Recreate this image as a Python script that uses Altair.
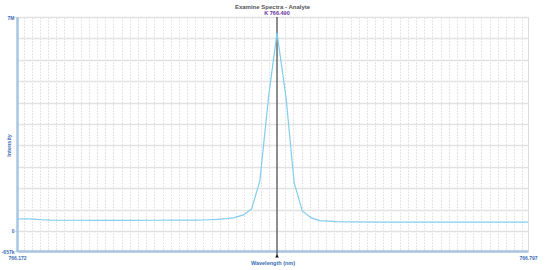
import altair as alt
import pandas as pd
import numpy as np

# ---- data ----
wavelengths = [766.172, 766.182, 766.192, 766.203, 766.213, 766.224, 766.245, 766.276, 766.307, 766.338,
               766.369, 766.390, 766.401, 766.417, 766.428, 766.438, 766.449, 766.459, 766.469, 766.480,
               766.490, 766.501, 766.511, 766.521, 766.532, 766.542, 766.553, 766.563, 766.584, 766.615,
               766.646, 766.677, 766.708, 766.739, 766.770, 766.797]
intensities = [386000, 399000, 386000, 366000, 353000, 350000, 349000, 348000, 348000, 349000,
               351000, 354000, 358000, 375000, 400000, 435000, 523000, 720000, 1640000, 4450000,
               6480000, 4380000, 1570000, 654000, 425000, 337000, 320000, 305000, 295000, 290000,
               288000, 286000, 286000, 287000, 286000, 286000]

peak_wavelength = [766.490]
peak_label = ["K 766.490"]

x_min, x_max = 766.172, 766.797
y_min, y_max = -657000, 7000000
y_ticks = [-657000] + [i * 700000 for i in range(11)]
x_ticks = [x_min] + [float(round(v, 2)) for v in np.arange(766.18, 766.795, 0.01)] + [x_max]

df = pd.DataFrame({"wl": wavelengths, "I": intensities})
peak_df = pd.DataFrame({"wl": peak_wavelength, "label": peak_label})

FONT = "Liberation Sans"
BLUE = "#3b6cb7"
AXIS_BLUE = "#aac4e3"

xscale = alt.Scale(domain=[x_min, x_max], nice=False, zero=False)
yscale = alt.Scale(domain=[y_min, y_max], nice=False, zero=False)

xaxis = alt.Axis(
    values=x_ticks,
    labelExpr="abs(datum.value - 766.172) < 0.0005 || abs(datum.value - 766.797) < 0.0005 ? format(datum.value, '.3f') : ''",
    labelFlush=False, labelOverlap=False, labelBound=False,
    grid=True, gridColor="#dcdcdc", gridDash=[1.5, 1.5], gridWidth=1,
    domainColor=AXIS_BLUE, domainWidth=2.5,
    ticks=False,
    labelFontSize=5, labelColor=BLUE, labelFontWeight="bold", labelFont=FONT, labelPadding=4,
    title="Wavelength (nm)", titleFontSize=5.5, titleColor=BLUE, titleFont=FONT,
    titleFontWeight="bold", titlePadding=0,
)

yaxis = alt.Axis(
    values=y_ticks,
    labelExpr="datum.value == 7000000 ? '7M' : datum.value == 0 ? '0' : datum.value < 0 ? '-657k' : ''",
    labelOverlap=False,
    grid=True, gridColor="#e2e2e2", gridWidth=1.3,
    domainColor=AXIS_BLUE, domainWidth=2.5,
    tickColor=AXIS_BLUE, tickSize=2,
    tickOpacity={"condition": {"test": "datum.value == 7000000 || datum.value == 0 || datum.value < 0", "value": 1}, "value": 0},
    labelFontSize=5, labelColor=BLUE, labelFontWeight="bold", labelFont=FONT, labelPadding=1,
    title="Intensity", titleFontSize=5.5, titleColor=BLUE, titleFont=FONT, titleFontWeight="bold",
    titleX=-9, titleY=128, titleAngle=-90, titleAlign="center", titleBaseline="middle",
)

X = alt.X("wl:Q", scale=xscale, axis=xaxis, title="Wavelength (nm)")

line = alt.Chart(df).mark_line(color="#80cdee", strokeWidth=1.2).encode(
    x=X,
    y=alt.Y("I:Q", scale=yscale, axis=yaxis, title="Intensity"),
)

rule = alt.Chart(peak_df).mark_rule(color="#555555", strokeWidth=1.3).encode(
    x=X,
    y=alt.value(0),
    y2=alt.value(240),
)

arrow = alt.Chart(peak_df).mark_point(shape="triangle-up", filled=True, color="#111111", size=14, opacity=1).encode(
    x=X,
    y=alt.value(239),
)

label = alt.Chart(peak_df).mark_text(color="#6b2fa0", fontSize=5.5, fontWeight="bold", font=FONT,
                                     baseline="middle").encode(
    x=X,
    y=alt.value(-4),
    text="label:N",
)

chart = alt.layer(rule, line, arrow, label).properties(
    width=511,
    height=234,
    autosize=alt.AutoSizeParams(type="none"),
    padding={"left": 17, "top": 17, "right": 26, "bottom": 19},
    title=alt.TitleParams("Examine Spectra - Analyte", fontSize=6, color="#555555", font=FONT,
                          fontWeight="bold", anchor="middle", offset=1),
).configure_view(stroke=None).configure(background="white")

chart.save("out.html", embed_options={"renderer": "svg", "actions": False})
